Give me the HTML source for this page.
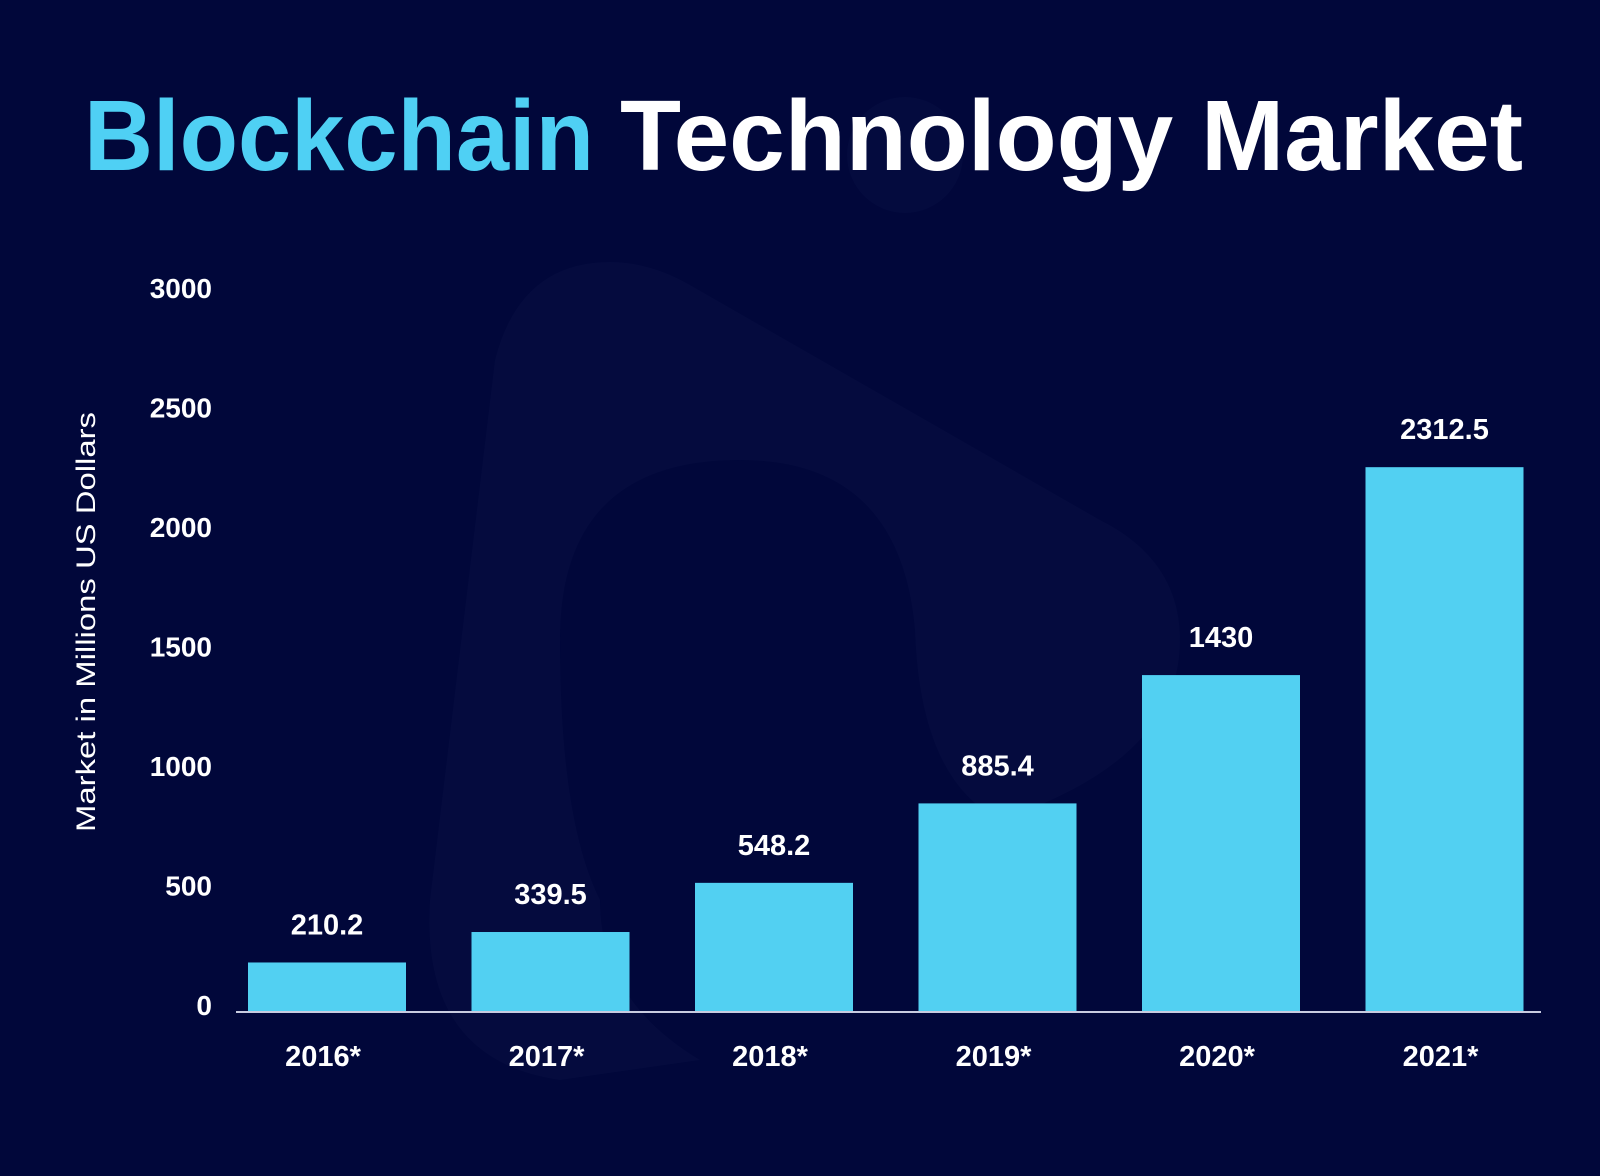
<!DOCTYPE html>
<html><head><meta charset="utf-8"><style>
html,body{margin:0;padding:0;background:#01073a;}
svg{display:block;font-family:"Liberation Sans",sans-serif;}
</style></head><body>
<svg width="1600" height="1176" viewBox="0 0 1600 1176">
<rect width="1600" height="1176" fill="#01073a"/>
<path d="M610 262 Q520 262 495 360 L430 900 Q420 1060 560 1080 L700 1060 Q600 1000 600 900 Q560 820 560 640 Q560 460 740 460 Q900 460 915 630 Q920 780 1000 820 Q1180 760 1180 640 Q1180 560 1100 520 L690 285 Q650 262 610 262 Z" fill="#0b1245" opacity="0.45"/>
<circle cx="905" cy="155" r="58" fill="#0b1245" opacity="0.4"/>
<text x="84" y="170" font-size="100" font-weight="bold" fill="#4fd0f4" textLength="510" lengthAdjust="spacingAndGlyphs">Blockchain</text>
<text x="620" y="170" font-size="100" font-weight="bold" fill="#ffffff" textLength="903" lengthAdjust="spacingAndGlyphs">Technology Market</text>
<text transform="translate(95,622) rotate(-90)" text-anchor="middle" font-size="27" fill="#ffffff" textLength="420" lengthAdjust="spacingAndGlyphs">Market in Millions US Dollars</text>
<g id="chart"></g>
</svg>
<script>
const categories = ["2016*","2017*","2018*","2019*","2020*","2021*"];
const values = [210.2,339.5,548.2,885.4,1430,2312.5];
const valueLabels = ["210.2","339.5","548.2","885.4","1430","2312.5"];
const ticks = [0,500,1000,1500,2000,2500,3000];
const NS="http://www.w3.org/2000/svg";
const g=document.getElementById('chart');
const base=1012, unit=0.2356, tickUnit=0.239;
function y(v){return base-v*unit;}
function ty(v){return base+3-v*tickUnit;}
function x(i){return 248+i*223.5;}
const bw=158;
function mk(t,a){const e=document.createElementNS(NS,t);for(const k in a)e.setAttribute(k,a[k]);g.appendChild(e);return e;}
ticks.forEach(function(t){
  const e=mk('text',{x:212,y:ty(t),'text-anchor':'end','font-size':28,'font-weight':'bold',fill:'#fff'});
  
  
  e.textContent=t;
});
values.forEach(function(v,i){
  const r=mk('rect',{x:x(i),y:y(v),width:bw,height:base-y(v),fill:'#52d0f2'});
  
  
  const l=mk('text',{x:x(i)+bw/2,y:y(v)-28,'text-anchor':'middle','font-size':29,'font-weight':'bold',fill:'#fff'});
  
  
  l.textContent=valueLabels[i];
  const c=mk('text',{x:x(i)+bw/2-4,y:1066,'text-anchor':'middle','font-size':29,'font-weight':'bold',fill:'#fff'});
  
  
  c.textContent=categories[i];
});
const ax=mk('line',{x1:236,x2:1541,y1:base,y2:base,stroke:'#c8cbe0','stroke-width':2});


</script>
</body></html>
